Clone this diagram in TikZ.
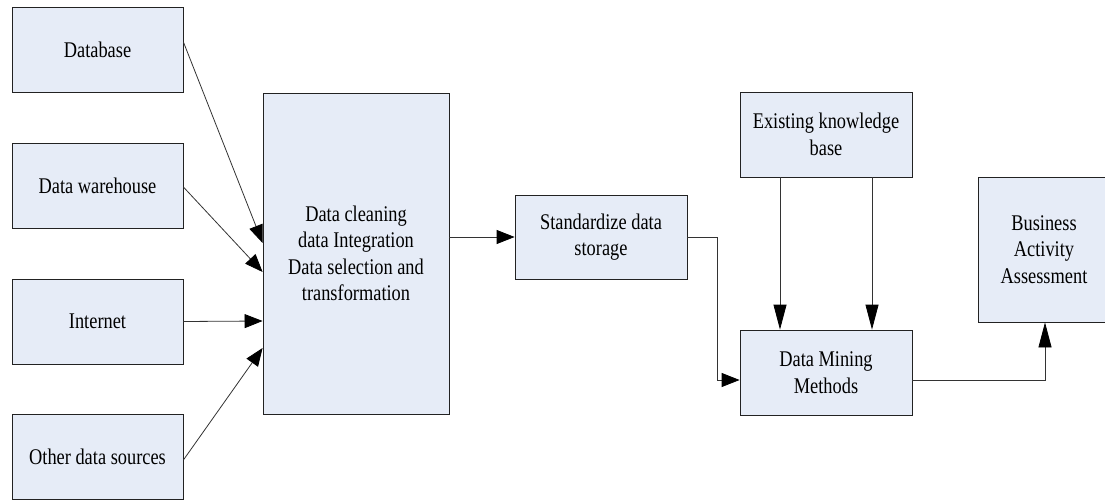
\documentclass[tikz,border=0pt]{standalone}
\usepackage{fontspec}
\setmainfont{Liberation Serif}[FakeStretch=0.82]
\usetikzlibrary{arrows.meta}
\definecolor{boxfill}{HTML}{E6ECF7}
\definecolor{edge}{HTML}{222222}
\definecolor{wire}{HTML}{333333}
\tikzset{
  block/.style={draw=edge, fill=boxfill, line width=0.8pt, inner sep=2pt,
    align=center, font=\fontsize{22.4}{26.5}\selectfont},
  flow/.style={draw=wire, line width=0.8pt, -{Triangle[length=18pt,width=14pt,black]}},
  drop/.style={draw=wire, line width=0.8pt, -{Triangle[length=25pt,width=13pt,black]}}
}
\begin{document}
\begin{tikzpicture}[x=1pt,y=-1pt]
\useasboundingbox (0,0) rectangle (1105,500);
% data sources
\node[block, minimum width=171pt, minimum height=85pt] (db)    at (97.5,49.5)  {Database};
\node[block, minimum width=171pt, minimum height=85pt] (dw)    at (97.5,185.5) {Data warehouse};
\node[block, minimum width=171pt, minimum height=85pt] (inet)  at (97.5,321.5) {Internet};
\node[block, minimum width=171pt, minimum height=85pt] (other) at (97.5,456.5) {Other data sources};
% preprocessing
\node[block, minimum width=186pt, minimum height=321pt] (prep) at (356,253.5)
  {Data cleaning\\data Integration\\Data selection and\\transformation};
\node[block, minimum width=172pt, minimum height=84pt] (store) at (601,237) {Standardize data\\storage};
% knowledge and mining
\node[block, minimum width=172pt, minimum height=85pt] (kb) at (826,134.5) {Existing knowledge\\base};
\node[block, minimum width=172pt, minimum height=85pt] (dm) at (826,372.5) {Data Mining\\Methods};
\node[block, minimum width=132pt, minimum height=145pt] (baa) at (1044,249.5) {Business\\Activity\\Assessment};
% connectors
\coordinate (c1) at (717,237);
\coordinate (c2) at (717,380);
\coordinate (c3) at (1045,380);
\draw[flow] ([yshift=7.5pt]db.east) -- ([yshift=10.5pt]prep.west);
\draw[flow] ([yshift=-1.5pt]dw.east) -- ([yshift=-18.5pt]prep.west);
\draw[flow] (inet.east) -- ([yshift=-67.5pt]prep.west);
\draw[flow] ([yshift=-3.5pt]other.east) -- ([yshift=-94.5pt]prep.west);
\draw[flow] ([yshift=16.5pt]prep.east) -- (store.west);
\draw[flow] (store.east) -- (c1) -- (c2) -- ([yshift=-7.5pt]dm.west);
\draw[drop] ([xshift=-46pt]kb.south) -- ([xshift=-46pt]dm.north);
\draw[drop] ([xshift=46pt]kb.south) -- ([xshift=46pt]dm.north);
\draw[drop] ([yshift=-7.5pt]dm.east) -- (c3) -- (baa.south -| c3);
\end{tikzpicture}
\end{document}
